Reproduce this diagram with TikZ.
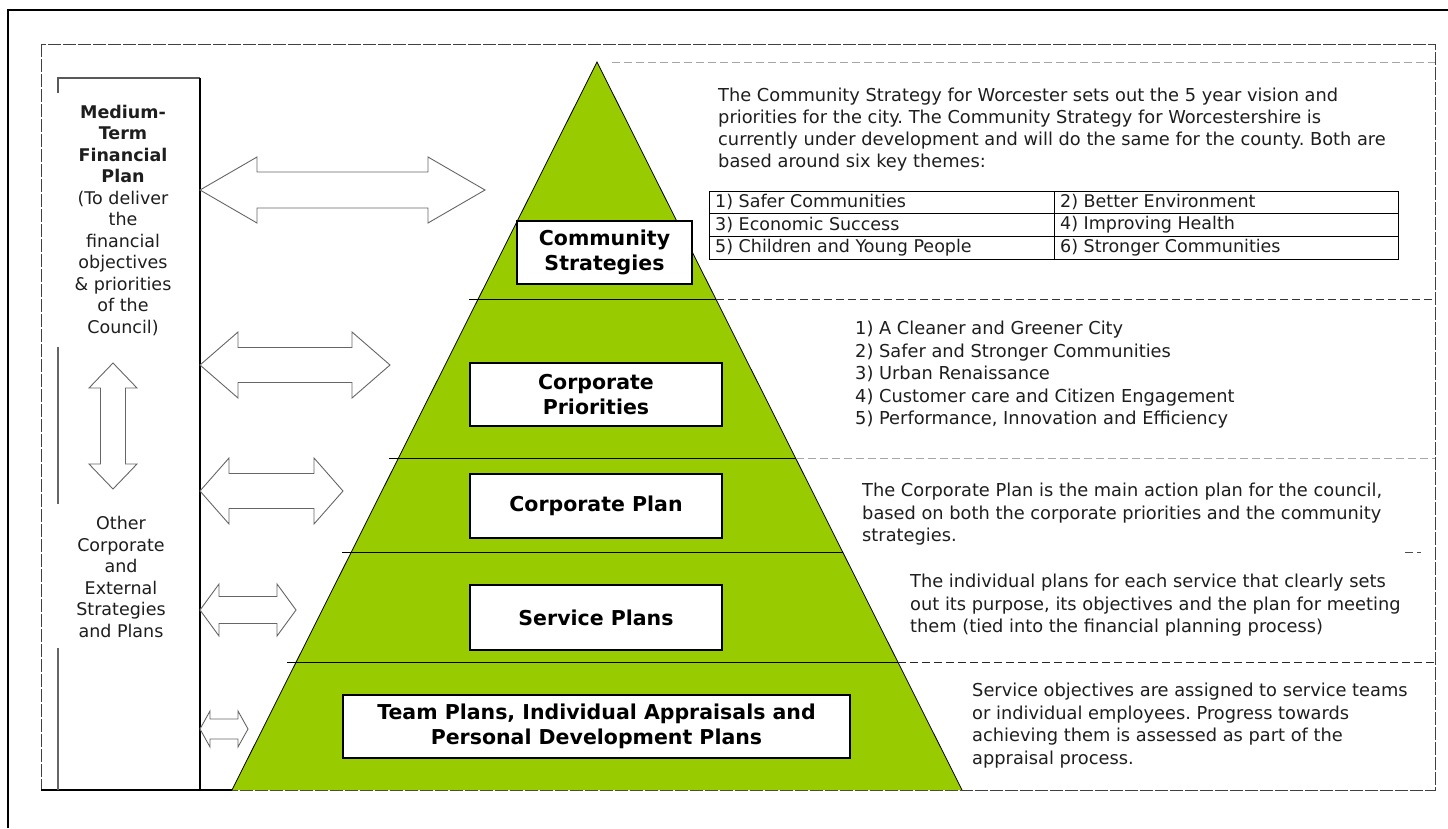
\documentclass[tikz,border=0pt]{standalone}
\usepackage{fontspec}
\setmainfont{DejaVu Sans}
\definecolor{pyrgreen}{RGB}{153,204,0}
\definecolor{inktext}{RGB}{30,30,30}
% horizontal block double arrow: x1, x2, y, half head width, half shaft width, head length
\newcommand\hdblarrow[6]{%
  \draw[blockarrow] (#1,#3) -- (#1+#6,#3-#4) -- (#1+#6,#3-#5) -- (#2-#6,#3-#5)
    -- (#2-#6,#3-#4) -- (#2,#3) -- (#2-#6,#3+#4) -- (#2-#6,#3+#5)
    -- (#1+#6,#3+#5) -- (#1+#6,#3+#4) -- cycle;}
\begin{document}
\frenchspacing
\begin{tikzpicture}[x=1pt,y=-1pt,
  level/.style={draw=black, line width=1.1pt, fill=white, align=center, inner sep=0pt,
    font=\fontsize{20.5}{25}\selectfont\bfseries},
  note/.style={anchor=north west, inner sep=0pt, align=left, text=inktext,
    font=\fontsize{17.8}{22.5}\selectfont},
  cell/.style={anchor=west, inner sep=0pt, text=inktext, font=\fontsize{17.5}{20}\selectfont},
  sidetext/.style={align=center, inner sep=0pt, text=inktext, font=\fontsize{17.5}{21.5}\selectfont},
  blockarrow/.style={draw=black!60, line width=0.9pt, fill=white, line join=miter},
  band/.style={draw=black, line width=0.9pt},
  guide/.style={line width=1pt, dash pattern=on 8pt off 4pt},
  frame/.style={draw=black!75, line width=0.9pt, dash pattern=on 13pt off 2pt}
]
\useasboundingbox (0,0) rectangle (1448,828);
\fill[white] (0,0) rectangle (1448,828);

% outer page border
\draw[black, line width=1.6pt] (8,828) -- (8,10) -- (1448,10);

% dashed inner frame
\draw[frame] (41,44) rectangle (1435,790);
\draw[black, line width=1.4pt] (41,790) -- (232,790);

% left column box
\draw[black!65, line width=1.2pt] (58,93) -- (58,78) -- (200,78);
\draw[black, line width=1.3pt] (200,78) -- (200,790);
\draw[black!60, line width=1.5pt] (58,347) -- (58,504);
\draw[black!60, line width=1.5pt] (58,648) -- (58,790);

\node[sidetext] (mtfp) at (123,220)
  {{\bfseries Medium-}\\{\bfseries Term}\\{\bfseries Financial}\\{\bfseries Plan}\\(To deliver\\the\\financial\\objectives\\\& priorities\\of the\\Council)};
\node[sidetext] (other) at (121,577)
  {Other\\Corporate\\and\\External\\Strategies\\and Plans};

% vertical double arrow between the two parts of the left column
\draw[blockarrow] (113,363) -- (137,388) -- (125.5,388) -- (125.5,464) -- (137,464)
  -- (113,489) -- (89,464) -- (100.5,464) -- (100.5,388) -- (89,388) -- cycle;

% pyramid
\coordinate (apex) at (597,62);
\coordinate (bl) at (232,790);
\coordinate (br) at (962,790);
\fill[pyrgreen] (bl) -- (apex) -- (br) -- cycle;
\draw[black, line width=0.8pt] (bl) -- (apex) -- (br);

% tier boundaries
\draw[band] (469,299) -- (716,299);
\draw[band] (389,458) -- (796,458);
\draw[band] (342,552) -- (843,552);
\draw[band] (287,662) -- (898,662);

% dashed guides to the descriptions
\draw[guide, black!35] (612,62) -- (1435,62);
\draw[guide, black!80] (716,299) -- (1435,299);
\draw[guide, black!35] (796,458) -- (1435,458);
\draw[guide, black!70] (1405,552) -- (1421,552);
\draw[guide, black!85] (898,662) -- (1435,662);

% tier labels
\node[level, minimum width=175pt, minimum height=63pt] (cs) at (604.5,252.5) {Community\\Strategies};
\node[level, minimum width=252pt, minimum height=63pt] (cpri) at (596,394.5) {Corporate\\Priorities};
\node[level, minimum width=252pt, minimum height=64pt] (cplan) at (596,506) {Corporate Plan};
\node[level, minimum width=252pt, minimum height=65pt] (splan) at (596,617.5) {Service Plans};
\node[level, minimum width=507pt, minimum height=63pt] (tplan) at (596.5,726.5)
  {Team Plans, Individual Appraisals and\\Personal Development Plans};

% block arrows from the left column to the tiers
\hdblarrow{200}{485}{190}{33}{18}{57}
\hdblarrow{200}{390}{365}{33}{17.5}{38}
\hdblarrow{200}{343}{491}{33}{17.5}{29}
\hdblarrow{200}{296}{610}{26}{13.5}{19}
\hdblarrow{200}{248}{729}{18}{10}{10}

% descriptions
\node[note, font=\fontsize{17.8}{21.8}\selectfont] (commtxt) at (718,88)
  {The Community Strategy for Worcester sets out the 5 year vision and\\
   priorities for the city. The Community Strategy for Worcestershire is\\
   currently under development and will do the same for the county. Both are\\
   based around six key themes:};

% key themes table
\draw[black, line width=0.9pt] (709,191) rectangle (1398,259);
\draw[black, line width=0.9pt] (709,213.5) -- (1398,213.5);
\draw[black, line width=0.9pt] (709,236) -- (1398,236);
\draw[black, line width=0.9pt] (1054,191) -- (1054,259);
\node[cell] (t11) at (715,202) {1) Safer Communities};
\node[cell] (t12) at (1060,202) {2) Better Environment};
\node[cell] (t21) at (715,225) {3) Economic Success};
\node[cell] (t22) at (1060,225) {4) Improving Health};
\node[cell] (t31) at (715,248) {5) Children and Young People};
\node[cell] (t32) at (1060,248) {6) Stronger Communities};

\node[note] (pritxt) at (855,321)
  {1) A Cleaner and Greener City\\
   2) Safer and Stronger Communities\\
   3) Urban Renaissance\\
   4) Customer care and Citizen Engagement\\
   5) Performance, Innovation and Efficiency};

\node[note] (plantxt) at (862,483)
  {The Corporate Plan is the main action plan for the council,\\
   based on both the corporate priorities and the community\\
   strategies.};

\node[note] (svctxt) at (910,574)
  {The individual plans for each service that clearly sets\\
   out its purpose, its objectives and the plan for meeting\\
   them (tied into the financial planning process)};

\node[note] (teamtxt) at (972,683)
  {Service objectives are assigned to service teams\\
   or individual employees. Progress towards\\
   achieving them is assessed as part of the\\
   appraisal process.};
\end{tikzpicture}
\end{document}
